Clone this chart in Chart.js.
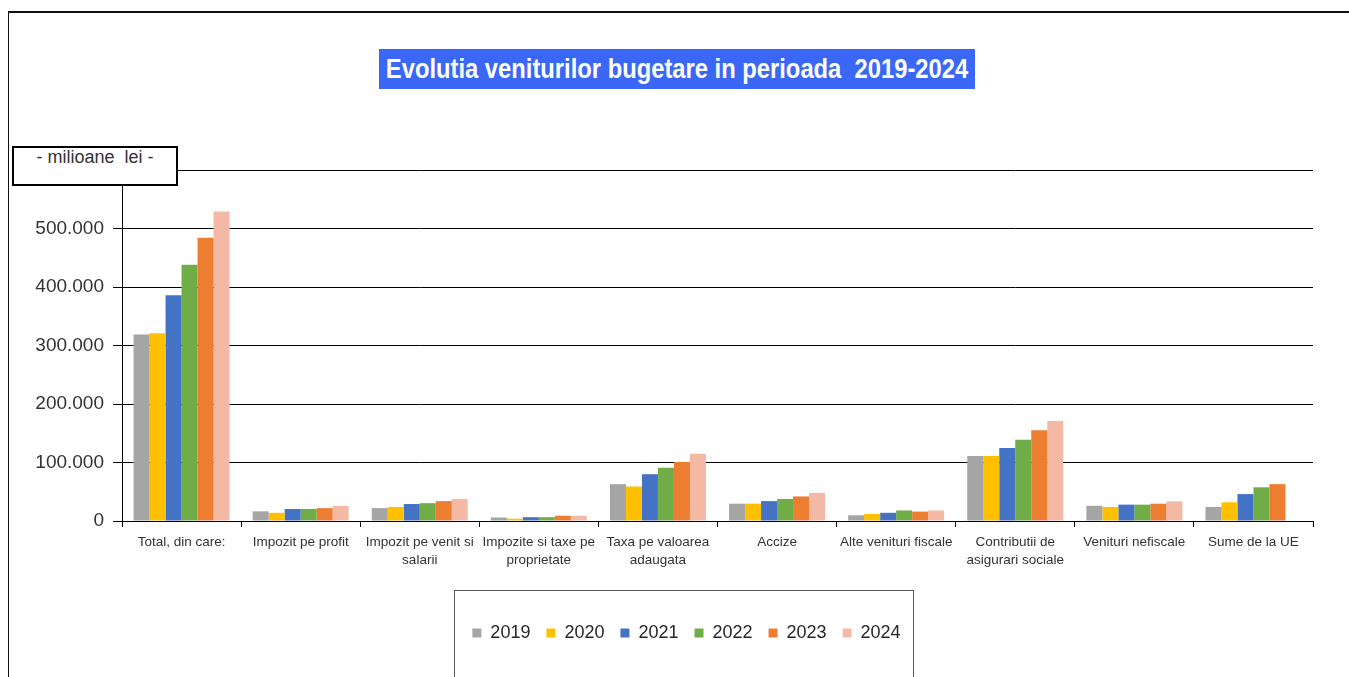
<!DOCTYPE html>
<html>
<head>
<meta charset="utf-8">
<title>Evolutia veniturilor bugetare</title>
<script src="https://cdn.jsdelivr.net/npm/chart.js@4.4.1/dist/chart.umd.min.js"></script>
<style>
  html, body { margin:0; padding:0; background:#fff; overflow:hidden; }
  body { width:1349px; height:677px; position:relative; font-family:"Liberation Sans", Arial, sans-serif; }
  #frame { position:absolute; left:8px; top:11px; width:1400px; height:700px;
           border-top:2px solid #111; border-left:1px solid #111; }
  #legend-frame { position:absolute; left:454px; top:590px; width:458px; height:120px;
                  border:1px solid #595959; }
  #chart { position:absolute; left:0; top:0; }
  #title { position:absolute; left:379px; top:49px; width:596px; height:40px;
           background:#3a67f6; overflow:hidden; }
  #title span { position:absolute; left:50%; top:0; line-height:40px; color:#fff;
                font-weight:bold; font-size:27px; white-space:pre;
                transform:translateX(-50%) scaleX(0.88); }
  #unit { position:absolute; left:12px; top:146px; width:162px; height:36px;
          border:2px solid #000; background:#fff; color:#333; font-size:18px;
          line-height:18px; text-align:center; white-space:pre; }
</style>
</head>
<body>
<div id="frame"></div>
<div id="legend-frame"></div>
<canvas id="chart" width="1349" height="677"></canvas>
<div id="title"><span>Evolutia veniturilor bugetare in perioada  2019-2024</span></div>
<div id="unit">- milioane  lei -</div>

<script>
// ---- data (milioane lei) ----
const CATEGORIES = [
  "Total, din care:",
  "Impozit pe profit",
  ["Impozit pe venit si", "salarii"],
  ["Impozite si taxe pe", "proprietate"],
  ["Taxa pe valoarea", "adaugata"],
  "Accize",
  "Alte venituri fiscale",
  ["Contributii de", "asigurari sociale"],
  "Venituri nefiscale",
  "Sume de la UE"
];
const YEARS = ["2019", "2020", "2021", "2022", "2023", "2024"];

const V2019 = [319000, 16500, 22000, 6000,  63000, 29600,  9700, 111000, 26000, 24000];
const V2020 = [321000, 14000, 24000, 4000,  59000, 29600, 12000, 111000, 24000, 32000];
const V2021 = [386000, 20500, 29000, 6500,  80000, 34000, 14000, 125000, 28000, 46000];
const V2022 = [438000, 20500, 30500, 6500,  91000, 37600, 18000, 139000, 28000, 57600];
const V2023 = [484000, 22000, 34000, 9000, 101000, 42000, 16000, 155000, 29600, 63000];
const V2024 = [529000, 25600, 37600, 9000, 115000, 48000, 18000, 171000, 33700, null];

const Y_TICKS = [0, 100000, 200000, 300000, 400000, 500000, 600000];

const COLORS = ["#a5a5a5", "#ffc000", "#4472c4", "#70ad47", "#ed7d31", "#f4b9a5"];

// ---- helpers ----
const fmt = (v) => String(v).replace(/\B(?=(\d{3})+(?!\d))/g, ".");

// legend sits a bit right of the canvas centre in the original
const LEGEND_SHIFT = 30;
const legendShift = {
  id: "legendShift",
  afterLayout(chart){
    const lg = chart.legend;
    if (!lg) return;
    lg.left += LEGEND_SHIFT;
    lg.right += LEGEND_SHIFT;
  }
};

const series = [V2019, V2020, V2021, V2022, V2023, V2024];

new Chart(document.getElementById("chart"), {
  type: "bar",
  data: {
    labels: CATEGORIES,
    datasets: YEARS.map((y, i) => ({
      label: y,
      data: series[i],
      backgroundColor: COLORS[i],
      borderWidth: 0,
      categoryPercentage: 0.806,
      barPercentage: 1.0
    }))
  },
  options: {
    responsive: false,
    animation: false,
    devicePixelRatio: 1,
    layout: { padding: { left: 0, right: 36, top: 170, bottom: 25 } },
    plugins: {
      title: { display: false },
      tooltip: { enabled: false },
      legend: {
        position: "bottom",
        labels: {
          boxWidth: 9, boxHeight: 9, padding: 16, color: "#262626",
          font: { family: '"Liberation Sans", Arial', size: 18 }
        }
      }
    },
    scales: {
      x: {
        afterFit: (s) => { s.height = 87; },
        grid: { display: true, drawOnChartArea: false, drawTicks: true, tickLength: 6, color: "#000", offset: true },
        border: { display: true, color: "#000", width: 1 },
        ticks: { color: "#333", padding: 6, maxRotation: 0, autoSkip: false,
                 font: { family: '"Liberation Sans", Arial', size: 13.5, lineHeight: 1.36 } }
      },
      y: {
        min: 0, max: 600000,
        afterFit: (s) => { s.width = 122; },
        afterBuildTicks: (s) => { s.ticks = Y_TICKS.map(v => ({ value: v })); },
        grid: { color: "#000", lineWidth: 1, drawTicks: true, tickLength: 9 },
        border: { display: true, color: "#000", width: 1 },
        ticks: { color: "#333", padding: 9, callback: (v) => fmt(v),
                 font: { family: '"Liberation Sans", Arial', size: 19 } }
      }
    }
  },
  plugins: [legendShift]
});
</script>
</body>
</html>
